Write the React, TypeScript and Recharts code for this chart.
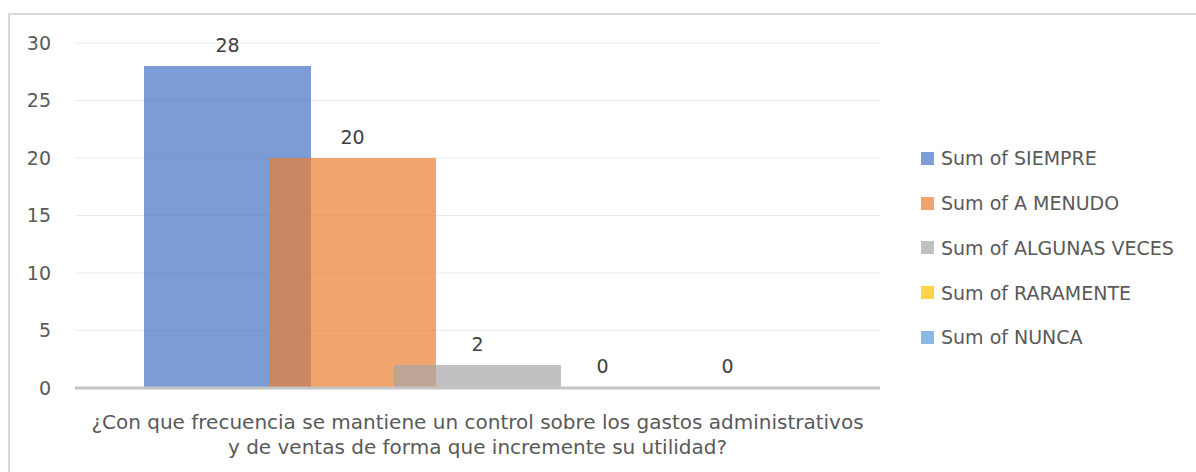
import React from 'react';
import { BarChart, Bar, XAxis, YAxis, CartesianGrid, LabelList, Rectangle } from 'recharts';

const categories = ['¿Con que frecuencia se mantiene un control sobre los gastos administrativos|y de ventas de forma que incremente su utilidad?'];
const seriesNames = ['Sum of SIEMPRE', 'Sum of A MENUDO', 'Sum of ALGUNAS VECES', 'Sum of RARAMENTE', 'Sum of NUNCA'];
const seriesKeys = ['siempre', 'aMenudo', 'algunasVeces', 'raramente', 'nunca'];
const seriesValues = [28, 20, 2, 0, 0];
const seriesColors = ['#4472C4', '#ED7D31', '#A5A5A5', '#FFC000', '#5B9BD5'];
const yTicks = [0, 5, 10, 15, 20, 25, 30];

const data = categories.map((c) => {
  const row: Record<string, string | number> = { category: c };
  seriesKeys.forEach((k, i) => {
    row[k] = seriesValues[i];
  });
  return row;
});

const FONT = '"DejaVu Sans", sans-serif';
const FS = 19;

const CategoryTick = (props: any) => {
  const { x, y, payload } = props;
  const lines = String(payload.value).split('|');
  return (
    <text x={x} y={y} textAnchor="middle" fill="#595959" fontFamily={FONT} fontSize={20}>
      {lines.map((l, i) => (
        <tspan key={i} x={x} dy={i === 0 ? 41 : 25}>
          {l}
        </tspan>
      ))}
    </text>
  );
};

const makeShape = (key: string) => (p: any) => {
  const v = p && p.payload ? Number(p.payload[key]) : 0;
  if (!(v > 0)) return <g />;
  return <Rectangle {...p} />;
};

export default function App() {
  return (
    <div style={{ position: 'absolute', left: 0, top: 0, width: 1196, height: 472, background: '#fff', overflow: 'hidden' }}>
      <div
        style={{
          position: 'absolute',
          left: 8,
          top: 13,
          width: 1200,
          height: 470,
          borderLeft: '2px solid #d9d9d9',
          borderTop: '2px solid #d9d9d9',
        }}
      />
      <div style={{ position: 'absolute', left: 0, top: 0 }}>
        <BarChart
          width={1196}
          height={472}
          data={data}
          margin={{ top: 43, right: 316, bottom: 24, left: 25 }}
          barSize={167}
          barGap={-42}
        >
          <CartesianGrid vertical={false} stroke="#ececec" strokeWidth={1} />
          <XAxis
            dataKey="category"
            axisLine={{ stroke: '#c4c4c4', strokeWidth: 3 }}
            tickLine={false}
            tickSize={0}
            tickMargin={0}
            height={60}
            tick={<CategoryTick />}
            interval={0}
          />
          <YAxis
            domain={[0, 30]}
            ticks={yTicks}
            width={50}
            axisLine={false}
            tickLine={false}
            tickSize={0}
            tickMargin={24}
            tick={{ fill: '#595959', fontFamily: FONT, fontSize: FS }}
          />
          {seriesKeys.map((k, i) => (
            <Bar
              key={k}
              dataKey={k}
              name={seriesNames[i]}
              fill={seriesColors[i]}
              fillOpacity={0.7}
              minPointSize={1}
              shape={makeShape(k)}
              isAnimationActive={false}
            >
              <LabelList
                dataKey={k}
                position="top"
                offset={14}
                fill="#404040"
                fontFamily={FONT}
                fontSize={FS}
              />
            </Bar>
          ))}
        </BarChart>
      </div>
      <div style={{ position: 'absolute', left: 921, top: 136, fontFamily: FONT, fontSize: FS, color: '#595959' }}>
        {seriesNames.map((n, i) => (
          <div key={n} style={{ height: 44.75, display: 'flex', alignItems: 'center', whiteSpace: 'nowrap' }}>
            <span
              style={{
                display: 'inline-block',
                width: 13,
                height: 13,
                background: seriesColors[i],
                opacity: 0.7,
                marginRight: 7,
              }}
            />
            <span>{n}</span>
          </div>
        ))}
      </div>
    </div>
  );
}
